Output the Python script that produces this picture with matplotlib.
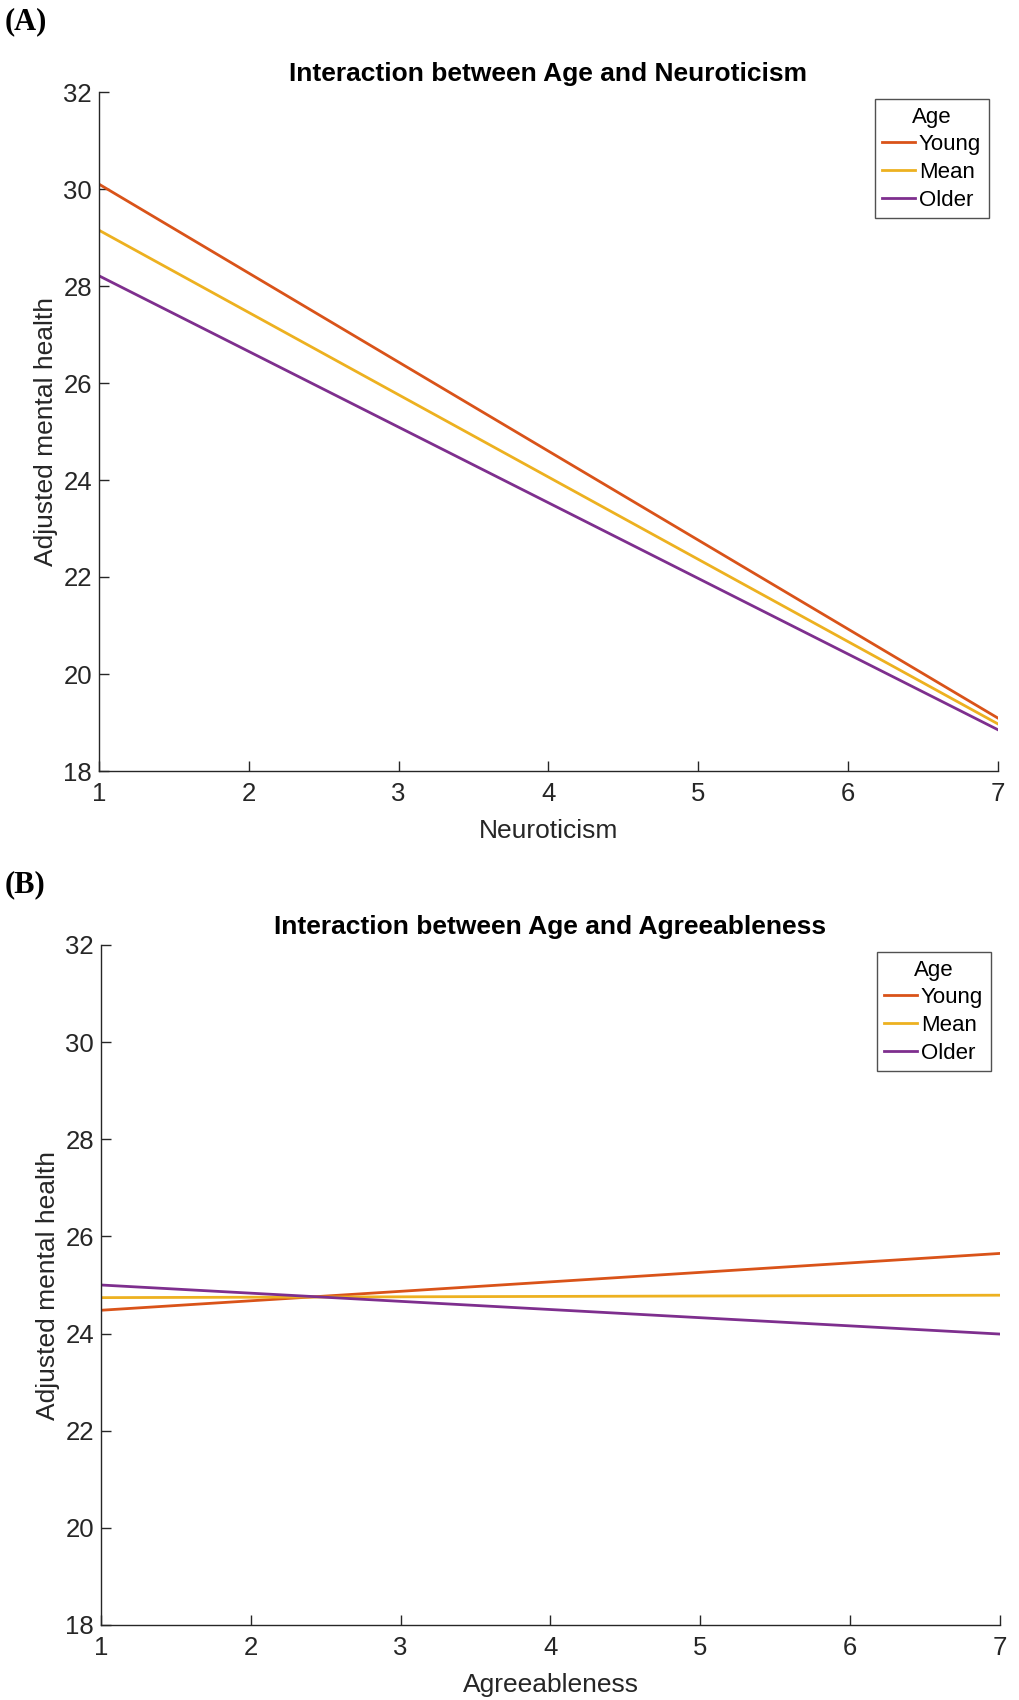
import matplotlib
matplotlib.use("Agg")
import matplotlib.pyplot as plt
import numpy as np

plt.rcParams['font.family'] = ['Liberation Sans', 'DejaVu Sans']

# values (model predictions at x = 1 and x = 7)
x_vals = [1, 7]
groups = ['Young', 'Mean', 'Older']
neuro_young = [30.10, 19.09]
neuro_mean = [29.15, 18.97]
neuro_older = [28.21, 18.85]
agree_young = [24.48, 25.65]
agree_mean = [24.74, 24.79]
agree_older = [25.00, 23.99]

colors = ['#D95319', '#EDB120', '#7E2F8E']

panels = [
    ('(A)', 'Interaction between Age and Neuroticism', 'Neuroticism',
     [neuro_young, neuro_mean, neuro_older]),
    ('(B)', 'Interaction between Age and Agreeableness', 'Agreeableness',
     [agree_young, agree_mean, agree_older]),
]

fig = plt.figure(figsize=(10.2, 17), dpi=100)
W, H = 1020, 1700
# axes boxes in pixels: left, top, right, bottom
boxes = [(99, 92, 998, 771), (101, 945, 1000, 1625)]
tag_y = [22, 885]

for (tag, title, xlabel, series), (l, t, r, b), ty in zip(panels, boxes, tag_y):
    ax = fig.add_axes([l / W, 1 - b / H, (r - l) / W, (b - t) / H])
    for name, vals, c in zip(groups, series, colors):
        ax.plot(x_vals, vals, color=c, lw=2, label=name)
    ax.set_xlim(1, 7)
    ax.set_ylim(18, 32)
    ax.set_xticks(range(1, 8))
    ax.set_yticks(range(18, 33, 2))
    ax.tick_params(direction='in', length=7, width=1, labelsize=18.5,
                   colors='#262626', pad=5)
    ax.tick_params(axis='x', pad=8)
    for s in ['top', 'right']:
        ax.spines[s].set_visible(False)
    for s in ['left', 'bottom']:
        ax.spines[s].set_color('#262626')
        ax.spines[s].set_linewidth(1)
    ax.set_title(title, fontsize=19, fontweight='bold', pad=8)
    ax.set_xlabel(xlabel, fontsize=19, color='#262626', labelpad=9)
    ax.set_ylabel('Adjusted mental health', fontsize=19, color='#262626', labelpad=4)
    leg = ax.legend(title='Age', loc='upper right', bbox_to_anchor=(0.99, 0.99),
                    fontsize=16, title_fontsize=16, frameon=True, fancybox=False,
                    handlelength=1.45, handletextpad=0.2, borderpad=0.35,
                    labelspacing=0.3, borderaxespad=0)
    leg.get_frame().set_edgecolor('#262626')
    leg.get_frame().set_linewidth(1)
    fig.text(5 / W, 1 - ty / H, tag, fontsize=22, fontweight='bold',
             family='Liberation Serif', va='center', ha='left')

fig.savefig('out.png', dpi=100)
